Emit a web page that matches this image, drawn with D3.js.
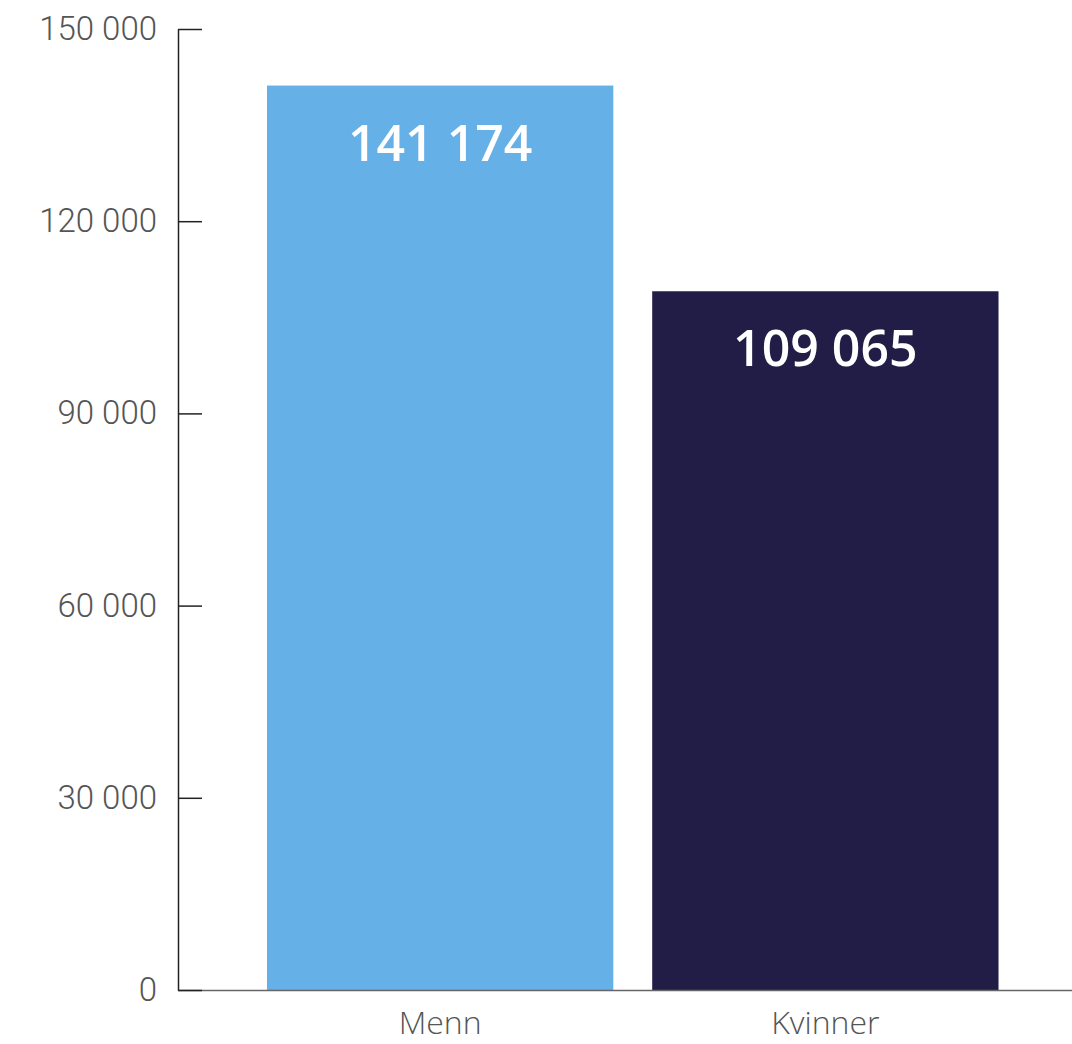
<html>
<head>
<meta charset="utf-8">
<title>Menn og kvinner</title>
<script src="https://d3js.org/d3.v7.min.js"></script>
<style>
  body { margin: 0; background: #fff; }
  .y.axis text { font-family: Roboto, "Liberation Sans", sans-serif; font-weight: 300; font-size: 33px; fill: #555; }
  .x.axis text { font-family: "Open Sans", sans-serif; font-weight: 300; font-size: 32px; fill: #555; }
</style>
</head>
<body>
<div id="chart"></div>
<script>
// data
const categories = ["Menn", "Kvinner"];
const values = [141174, 109065];
const colors = ["#65b0e7", "#221d46"];
const yTicks = [0, 30000, 60000, 90000, 120000, 150000];

const w = 1072, h = 1044;
const margin = { top: 29, left: 178, bottom: 54 };
const plotBottom = h - margin.bottom; // 990

const svg = d3.select("#chart").append("svg")
    .attr("width", w)
    .attr("height", h);

const x = d3.scaleBand()
    .domain(categories)
    .range([margin.left, 1087.5])
    .paddingInner(0.101)
    .paddingOuter(0.231);

const y = d3.scaleLinear()
    .domain([0, 150000])
    .range([plotBottom, margin.top]);

const fmt = d => d3.format(",")(d).replace(/,/g, " ");

// bars
svg.selectAll("rect.bar")
    .data(values).enter()
    .append("rect")
    .attr("class", "bar")
    .attr("x", (d, i) => x(categories[i]))
    .attr("y", d => y(d))
    .attr("width", x.bandwidth())
    .attr("height", d => plotBottom - y(d))
    .style("fill", (d, i) => colors[i]);

// value labels
svg.selectAll("text.val")
    .data(values).enter()
    .append("text")
    .attr("class", "val")
    .attr("x", (d, i) => x(categories[i]) + x.bandwidth() / 2)
    .attr("y", d => y(d) + 75)
    .attr("text-anchor", "middle")
    .style("font-family", "'Open Sans', sans-serif")
    .style("font-weight", 600)
    .style("font-size", "50px")
    .style("fill", "#fff")
    .text(d => fmt(d));

// x axis
const xAxis = svg.append("g")
    .attr("class", "x axis")
    .attr("transform", "translate(0," + plotBottom + ")")
    .call(d3.axisBottom(x).tickSize(0).tickPadding(21));
xAxis.select(".domain").attr("stroke", "#666").attr("stroke-width", 1.5);
xAxis.selectAll("text").attr("dy", "0.71em");

// y axis
const yAxis = svg.append("g")
    .attr("class", "y axis")
    .attr("transform", "translate(" + margin.left + ",0)")
    .call(d3.axisLeft(y).tickValues(yTicks).tickFormat(fmt)
        .tickSizeInner(-24).tickSizeOuter(0).tickPadding(21));
yAxis.select(".domain").attr("stroke", "#222").attr("stroke-width", 1.5);
yAxis.selectAll(".tick line").attr("stroke", "#222").attr("stroke-width", 1.5);
yAxis.selectAll("text").attr("x", -21);
</script>
</body>
</html>
